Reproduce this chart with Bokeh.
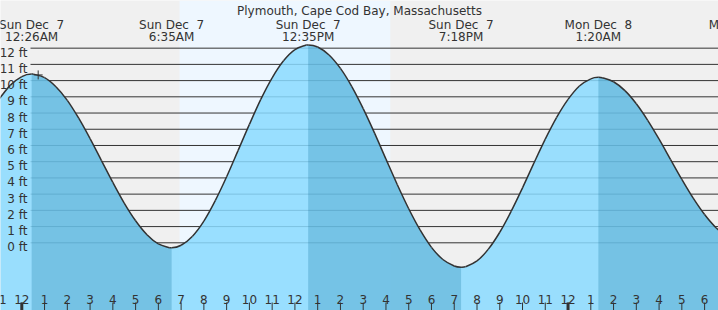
from bokeh.plotting import figure
from bokeh.core.properties import value
from bokeh.embed import file_html
from bokeh.resources import INLINE
import numpy as np

# ---------------- data ----------------
title_text = "Plymouth, Cape Cod Bay, Massachusetts"

# hours since midnight Sun Dec 7, predicted height (ft)
tide_hours = [-1.0, -0.5, 0.0, 0.433, 0.5, 1.0, 1.5, 2.0, 2.5, 3.0, 3.5, 4.0, 4.5, 5.0,
              5.5, 6.0, 6.5, 6.583, 7.0, 7.5, 8.0, 8.5, 9.0, 9.5, 10.0, 10.5, 11.0,
              11.5, 12.0, 12.5, 12.583, 13.0, 13.5, 14.0, 14.5, 15.0, 15.5, 16.0, 16.5,
              17.0, 17.5, 18.0, 18.5, 19.0, 19.3, 19.5, 20.0, 20.5, 21.0, 21.5, 22.0,
              22.5, 23.0, 23.5, 24.0, 24.5, 25.0, 25.333, 25.5, 26.0, 26.5, 27.0, 27.5,
              28.0, 28.5, 29.0, 29.5, 30.0, 30.5, 31.0]
tide_ft = [8.86, 9.72, 10.25, 10.4, 10.40, 10.18, 9.62, 8.78, 7.68, 6.42, 5.07, 3.72, 2.45,
           1.36, 0.50, -0.07, -0.30, -0.3, -0.15, 0.41, 1.34, 2.60, 4.07, 5.68, 7.30, 8.84,
           10.17, 11.22, 11.91, 12.19, 12.2, 12.07, 11.58, 10.75, 9.63, 8.27, 6.76, 5.16,
           3.58, 2.10, 0.79, -0.28, -1.03, -1.43, -1.5, -1.47, -1.12, -0.39, 0.65, 1.94,
           3.39, 4.91, 6.39, 7.73, 8.84, 9.67, 10.11, 10.2, 10.18, 9.93, 9.38, 8.57, 7.55,
           6.39, 5.15, 3.91, 2.75, 1.74, 0.93, 0.38]

extreme_hours = [0.433, 6.583, 12.583, 19.3, 25.333, 31.667]
extreme_kind = ["high", "low", "high", "low", "high", "low"]
extreme_dates = ["Sun Dec \u00a07", "Sun Dec \u00a07", "Sun Dec \u00a07", "Sun Dec \u00a07",
                 "Mon Dec \u00a08", "Mon Dec \u00a08"]
extreme_times = ["12:26AM", "6:35AM", "12:35PM", "7:18PM", "1:20AM", "7:40AM"]

sunrise_hours = [6.93]
sunset_hours = [16.19]

now_hour = [0.72]
now_ft = [10.35]

grid_ft = list(range(0, 13))
tick_hours = list(range(-1, 31))
tick_labels = [str(h % 12 if h % 12 else 12) for h in tick_hours]
midnight_hours = [0, 24]

# ---------------- layout (pixel geometry) ----------------
W, H = 718, 310
PX_PER_H = 22.76
X_MIDNIGHT = 21.3
PX_PER_FT = 16.22
Y_ZERO = 242.3

X_START = -X_MIDNIGHT / PX_PER_H
X_END = (W - X_MIDNIGHT) / PX_PER_H
Y_TOP = Y_ZERO / PX_PER_FT
Y_BOT = -(H - Y_ZERO) / PX_PER_FT


def fx(px):
    return X_START + px / PX_PER_H


def fy(py):
    return (Y_ZERO - py) / PX_PER_FT


FONT = value("DejaVu Sans")
TXT = "#333333"

p = figure(width=W, height=H, x_range=(X_START, X_END), y_range=(Y_BOT, Y_TOP),
           toolbar_location=None, output_backend="svg", min_border=0,
           x_axis_location=None, y_axis_location=None)
p.grid.visible = False
p.outline_line_color = None
p.background_fill_color = "#f0f0f0"
p.border_fill_color = "#f0f0f0"

# daylight band
p.quad(left=sunrise_hours, right=sunset_hours, bottom=Y_BOT, top=Y_TOP,
       fill_color="#eef7ff", line_color=None)

# horizontal grid lines
gx0 = fx(30)
p.segment(x0=[gx0] * len(grid_ft), y0=grid_ft, x1=[X_END] * len(grid_ft), y1=grid_ft,
          line_color="#333333", line_width=1)

# water
th = np.array(tide_hours)
tf = np.array(tide_ft)
p.varea(x=th, y1=Y_BOT, y2=tf, fill_color="#8adaff", fill_alpha=0.85)

# falling-tide shading (high -> next low)
for i, k in enumerate(extreme_kind):
    if k == "high":
        a = extreme_hours[i]
        b = extreme_hours[i + 1] if i + 1 < len(extreme_hours) else th[-1]
        m = (th >= a - 1e-9) & (th <= b + 1e-9)
        p.varea(x=th[m], y1=Y_BOT, y2=tf[m], fill_color="#0a6e9b", fill_alpha=0.25)

# tide curve outline drawn as smooth Hermite (Bezier) segments through the read points
n = len(th)
slopes = np.zeros(n)
for i in range(n):
    if any(abs(th[i] - e) < 1e-6 for e in extreme_hours):
        slopes[i] = 0.0
    elif i == 0:
        slopes[i] = (tf[1] - tf[0]) / (th[1] - th[0])
    elif i == n - 1:
        slopes[i] = (tf[-1] - tf[-2]) / (th[-1] - th[-2])
    else:
        slopes[i] = (tf[i + 1] - tf[i - 1]) / (th[i + 1] - th[i - 1])
dx = th[1:] - th[:-1]
p.bezier(x0=th[:-1], y0=tf[:-1], x1=th[1:], y1=tf[1:],
         cx0=th[:-1] + dx / 3, cy0=tf[:-1] + slopes[:-1] * dx / 3,
         cx1=th[1:] - dx / 3, cy1=tf[1:] - slopes[1:] * dx / 3,
         line_color="#333333", line_width=1.5)

# current time marker
p.scatter(now_hour, now_ft, marker="cross", size=9, line_color="#333333", line_width=1)

# title
p.text(x=[fx(W / 2)], y=[fy(10)], text=[title_text], text_font=FONT,
       text_font_size=value("12px"), text_color=TXT, text_align="center",
       text_baseline="alphabetic")

# extreme labels
p.text(x=extreme_hours, y=[fy(24)] * len(extreme_hours), text=extreme_dates, text_font=FONT,
       text_font_size=value("12px"), text_color=TXT, text_align="center",
       text_baseline="alphabetic")
p.text(x=extreme_hours, y=[fy(36)] * len(extreme_hours), text=extreme_times, text_font=FONT,
       text_font_size=value("12px"), text_color=TXT, text_align="center",
       text_baseline="alphabetic")

# y labels
p.text(x=[fx(27)] * len(grid_ft), y=grid_ft, text=[f"{v} ft" for v in grid_ft],
       text_font=FONT, text_font_size=value("12px"), text_color=TXT,
       text_align="right", text_baseline="alphabetic", y_offset=4.5)

# hour ticks and labels
p.text(x=tick_hours, y=[fy(299)] * len(tick_hours), text=tick_labels, text_font=FONT,
       text_font_size=value("12px"), text_color=TXT, text_align="center",
       text_baseline="alphabetic")
p.segment(x0=tick_hours, y0=[fy(302)] * len(tick_hours), x1=tick_hours,
          y1=[Y_BOT] * len(tick_hours), line_color="#333333", line_width=1)
p.segment(x0=midnight_hours, y0=[fy(302)] * len(midnight_hours), x1=midnight_hours,
          y1=[Y_BOT] * len(midnight_hours), line_color="#333333", line_width=3)

open("out.html", "w").write(file_html(p, INLINE))
